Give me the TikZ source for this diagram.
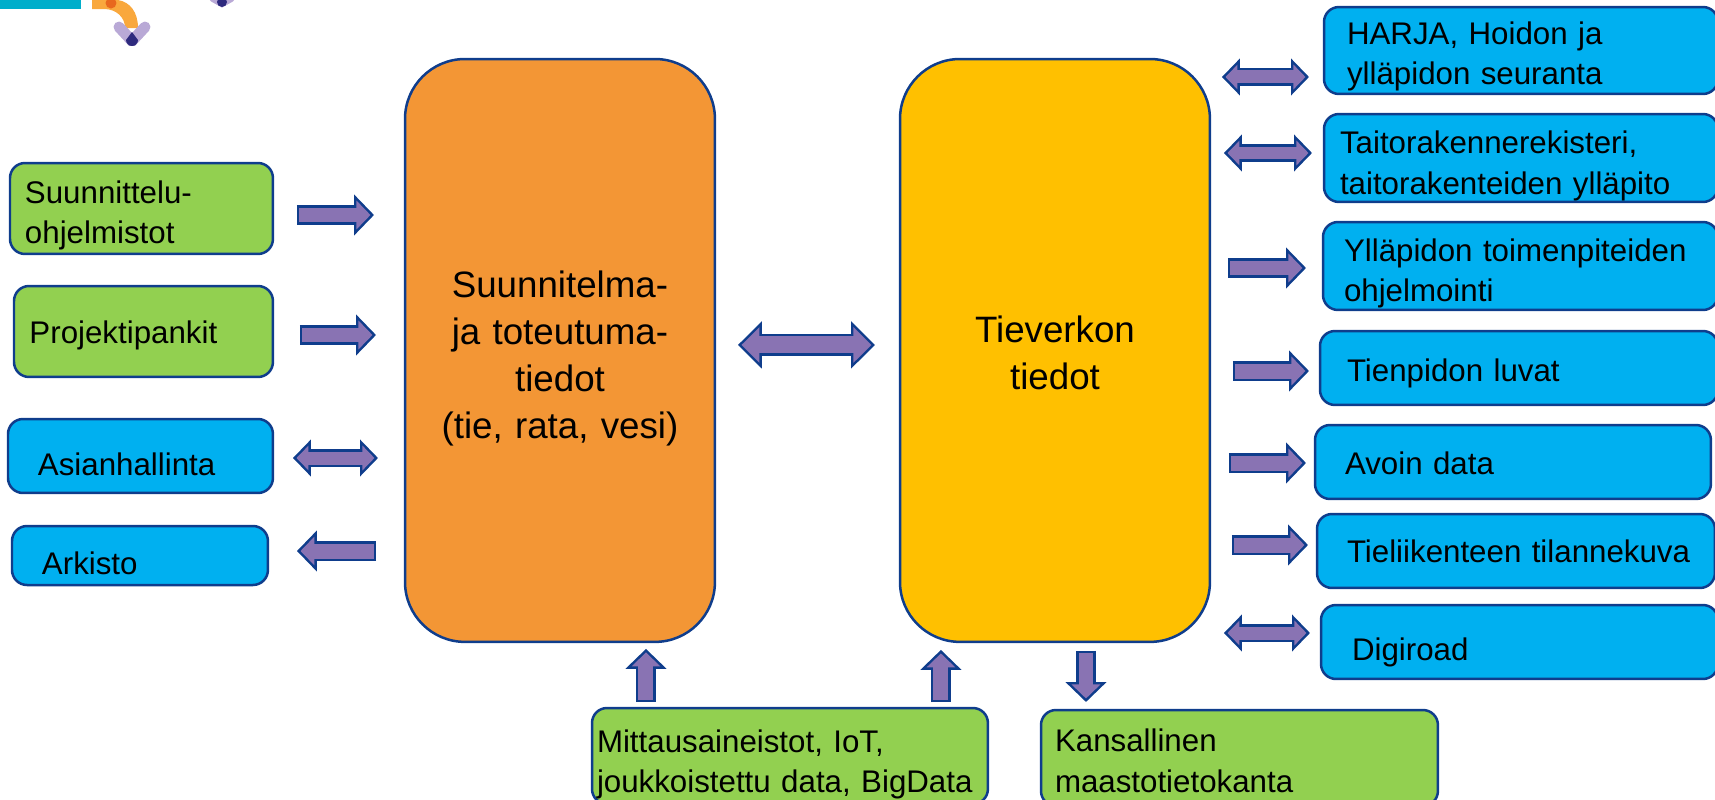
\documentclass[tikz,border=0pt]{standalone}
\usepackage{fontspec}
\setmainfont{Liberation Sans}
\usepackage{xcolor}
\usepackage{tikz}
\usetikzlibrary{arrows.meta}
\definecolor{boxedge}{HTML}{0F3D8C}
\definecolor{arrowfill}{HTML}{8973B3}
\definecolor{boxgreen}{HTML}{92D050}
\definecolor{boxblue}{HTML}{00B0F0}
\definecolor{boxorange}{HTML}{F39635}
\definecolor{boxyellow}{HTML}{FFC000}
\tikzstyle{smallbox} = [rectangle, anchor=north west, draw=boxedge, line width=0.05cm, rounded corners=0.3cm, outer sep=0, inner ysep=0, align=left, font=\fontsize{17.8}{23}\selectfont]
\tikzstyle{greenbox} = [smallbox, fill=boxgreen]
\tikzstyle{bluebox} = [smallbox, fill=boxblue]
\tikzstyle{bigbox} = [rectangle, anchor=north west, draw=boxedge, line width=0.05cm, rounded corners=1.2cm, outer sep=0, inner sep=0, text width=6.2cm, minimum height=11.66cm, align=center, font=\fontsize{20.9}{26.7}\selectfont]
\tikzset{
  textdrop/.style={execute at begin node={\rule{0pt}{#1}}},
  fatarrow/.style 2 args={
    preaction={draw=boxedge, line width=0.4cm, shorten <=#1*0.02cm, shorten >=#2*0.02cm, -{Triangle[length=0.4cm, width=0.8cm]}},
    draw=arrowfill, line width=0.3cm, shorten <=#1*0.02cm+0.05cm, shorten >=#2*0.02cm+0.0707cm, -{Triangle[length=0.28cm, width=0.56cm]}},
  fatboth/.style 2 args={
    preaction={draw=boxedge, line width=0.36cm, shorten <=#1*0.02cm, shorten >=#2*0.02cm, {Triangle[length=0.36cm, width=0.72cm]}-{Triangle[length=0.36cm, width=0.72cm]}},
    draw=arrowfill, line width=0.26cm, shorten <=#1*0.02cm+0.0707cm, shorten >=#2*0.02cm+0.0707cm, {Triangle[length=0.24cm, width=0.48cm]}-{Triangle[length=0.24cm, width=0.48cm]}},
  fatbig/.style 2 args={
    preaction={draw=boxedge, line width=0.44cm, shorten <=#1*0.02cm, shorten >=#2*0.02cm, {Triangle[length=0.48cm, width=0.92cm]}-{Triangle[length=0.48cm, width=0.92cm]}},
    draw=arrowfill, line width=0.34cm, shorten <=#1*0.02cm+0.0707cm, shorten >=#2*0.02cm+0.0707cm, {Triangle[length=0.36cm, width=0.69cm]}-{Triangle[length=0.36cm, width=0.69cm]}}
}
\begin{document}
\begin{tikzpicture}[x=0.02cm, y=-0.02cm]
                            \path [use as bounding box, clip] (0,0) rectangle (1715,799);
                            \fill [color={rgb,255:red,0;green,174;blue,203}] (0,0) rectangle (81,9);
                            \fill [color={rgb,255:red,249;green,168;blue,61}] (92,0) -- (118,0) .. controls (130,2) and (138,12) .. (138,28) -- (125,28) .. controls (125,17) and (116,9) .. (104,9) -- (92,9) -- cycle;
                            \fill [color={rgb,255:red,232;green,104;blue,30}] (111,3) circle (0.11cm);
                            \draw [line width=0.22cm, line cap=round, color={rgb,255:red,185;green,169;blue,214}] (119,27) -- (132,41) -- (145,27);
                            \fill [color={rgb,255:red,46;green,42;blue,126}] (132,32) -- (138,40) arc (0:-180:0.12cm) -- cycle;
                            \fill [color=white] (110,46) rectangle (155,56);
                            \draw [line width=0.16cm, line cap=round, color={rgb,255:red,185;green,169;blue,214}] (213,-2) -- (222,3) -- (231,-2);
                            \fill [color={rgb,255:red,46;green,42;blue,126}] (222,2) circle (0.1cm);
                            \node (suunnittelu) [greenbox, textdrop=0.74cm, minimum height=1.82cm, text width=4.66cm, inner xsep=0.3cm] at (10,163) {Suunnittelu-\\ohjelmistot};
                            \node (projekti) [greenbox, textdrop=0.59cm, minimum height=1.82cm, text width=4.56cm, inner xsep=0.31cm] at (14,286) {Projektipankit};
                            \node (asianhallinta) [bluebox, textdrop=0.77cm, minimum height=1.48cm, text width=4.1cm, inner xsep=0.6cm] at (8,419) {Asianhallinta};
                            \node (arkisto) [bluebox, textdrop=0.77cm, minimum height=1.18cm, text width=3.92cm, inner xsep=0.6cm] at (12,526) {Arkisto};
                            \node (suunnitelma) [bigbox, textdrop=0.85cm, fill=boxorange] at (405,59) {Suunnitelma-\\ja toteutuma-\\tiedot\\(tie, rata, vesi)};
                            \node (tieverkko) [bigbox, textdrop=0.63cm, fill=boxyellow] at (900,59) {Tieverkon\\tiedot};
                            \node (harja) [bluebox, textdrop=0.7cm, minimum height=1.74cm, text width=6.96cm, inner xsep=0.46cm] at (1324,7) {HARJA, Hoidon ja\\ylläpidon seuranta};
                            \node (taito) [bluebox, textdrop=0.77cm, minimum height=1.76cm, text width=7.24cm, inner xsep=0.32cm] at (1324,114) {Taitorakennerekisteri,\\taitorakenteiden ylläpito};
                            \node (yllapito) [bluebox, textdrop=0.74cm, minimum height=1.76cm, text width=7.06cm, inner xsep=0.42cm] at (1323,222) {Ylläpidon toimenpiteiden\\ohjelmointi};
                            \node (luvat) [bluebox, textdrop=0.68cm, minimum height=1.48cm, text width=6.88cm, inner xsep=0.54cm] at (1320,331) {Tienpidon luvat};
                            \node (avoin) [bluebox, textdrop=0.5cm, minimum height=1.48cm, text width=6.72cm, inner xsep=0.6cm] at (1315,425) {Avoin data};
                            \node (tilanne) [bluebox, minimum height=1.48cm, text width=6.76cm, inner xsep=0.6cm] at (1317,514) {\mbox{Tieliikenteen tilannekuva}};
                            \node (digiroad) [bluebox, textdrop=0.85cm, minimum height=1.48cm, text width=6.7cm, inner xsep=0.62cm] at (1321,605) {Digiroad};
                            \node (mittaus) [greenbox, textdrop=0.79cm, minimum height=1.92cm, text width=7.72cm, inner xsep=0.1cm] at (592,708) {Mittausaineistot, IoT,\\joukkoistettu data, BigData};
                            \node (maasto) [greenbox, textdrop=0.57cm, minimum height=1.92cm, text width=7.38cm, inner xsep=0.28cm] at (1041,710) {Kansallinen\\maastotietokanta};
                            \draw [fatarrow={24}{31}] ([yshift=-0.13cm]suunnittelu.east) -- ([yshift=-0.13cm]suunnittelu.east -| suunnitelma.west);
                            \draw [fatarrow={27}{29}] ([yshift=-0.07cm]projekti.east) -- ([yshift=-0.07cm]projekti.east -| suunnitelma.west);
                            \draw [fatboth={20}{27}] ([yshift=-0.04cm]asianhallinta.east) -- ([yshift=-0.04cm]asianhallinta.east -| suunnitelma.west);
                            \draw [fatarrow={29}{29}] ([yshift=0.09cm]arkisto.east -| suunnitelma.west) -- ([yshift=0.09cm]arkisto.east);
                            \draw [fatbig={23}{25}] ([yshift=0.11cm]suunnitelma.east) -- ([yshift=0.11cm]tieverkko.west);
                            \draw [fatboth={12}{15}] ([yshift=-0.53cm]harja.west -| tieverkko.east) -- ([yshift=-0.53cm]harja.west);
                            \draw [fatboth={14}{12}] ([yshift=0.1cm]taito.west -| tieverkko.east) -- ([yshift=0.1cm]taito.west);
                            \draw [fatarrow={18}{17}] ([yshift=-0.04cm]yllapito.west -| tieverkko.east) -- ([yshift=-0.04cm]yllapito.west);
                            \draw [fatarrow={23}{11}] ([yshift=-0.06cm]luvat.west -| tieverkko.east) -- ([yshift=-0.06cm]luvat.west);
                            \draw [fatarrow={19}{9}] ([yshift=-0.02cm]avoin.west -| tieverkko.east) -- ([yshift=-0.02cm]avoin.west);
                            \draw [fatarrow={22}{9}] ([yshift=0.12cm]tilanne.west -| tieverkko.east) -- ([yshift=0.12cm]tilanne.west);
                            \draw [fatboth={14}{11}] ([yshift=0.18cm]digiroad.west -| tieverkko.east) -- ([yshift=0.18cm]digiroad.west);
                            \draw [fatarrow={6}{7}] ([xshift=-2.88cm]mittaus.north) -- ([xshift=-2.88cm]mittaus.north |- suunnitelma.south);
                            \draw [fatarrow={6}{8}] ([xshift=3.02cm]mittaus.north) -- ([xshift=3.02cm]mittaus.north |- tieverkko.south);
                            \draw [fatarrow={9}{8}] ([xshift=-3.07cm]maasto.north |- tieverkko.south) -- ([xshift=-3.07cm]maasto.north);
                        \end{tikzpicture}
\end{document}
